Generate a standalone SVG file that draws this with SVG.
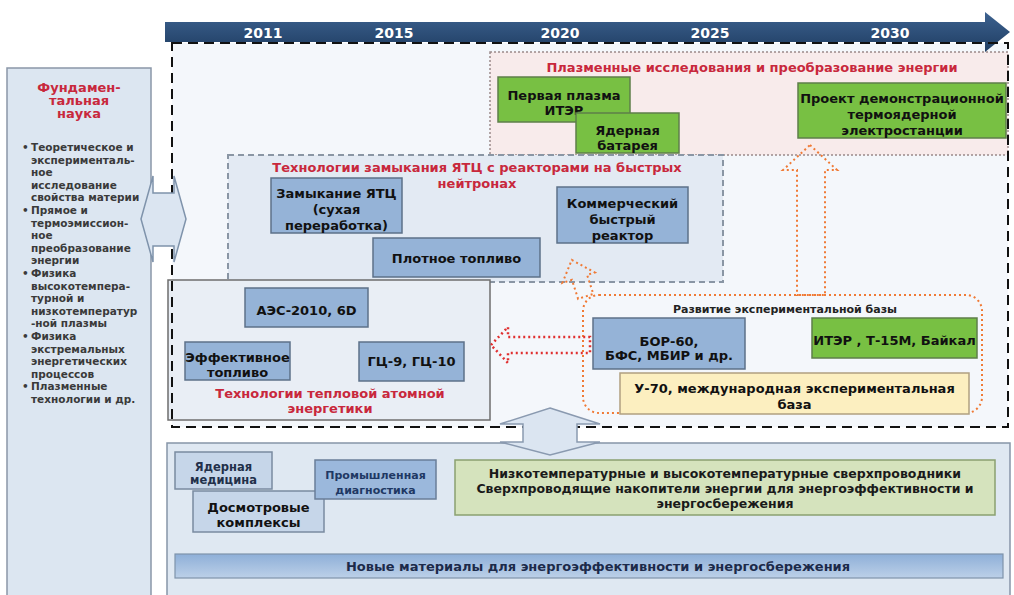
<svg xmlns="http://www.w3.org/2000/svg" width="1014" height="595" viewBox="0 0 1014 595">
<defs>
<linearGradient id="band" x1="0" y1="0" x2="0" y2="1">
<stop offset="0" stop-color="#3d6290"/><stop offset="1" stop-color="#1f3d62"/>
</linearGradient>
<linearGradient id="mat" x1="0" y1="0" x2="0" y2="1">
<stop offset="0" stop-color="#8eafd8"/><stop offset="1" stop-color="#bcd0e8"/>
</linearGradient>
</defs>
<style>
text{font-family:"DejaVu Sans","Liberation Sans",Arial,sans-serif;font-weight:bold;text-anchor:middle}
.t{font-size:13px;fill:#111}
.r{font-size:13px;fill:#c8283c}
.yr{font-size:14px;fill:#fff}
.lb{font-size:10.5px;fill:#3a3a3a;text-anchor:start}
.blue{fill:#95b3d7;stroke:#5d7189;stroke-width:1.5}
.green{fill:#78c043;stroke:#5e7f4a;stroke-width:1.5}
.pale{fill:#c6d6e9;stroke:#7a8aa0;stroke-width:1.5}
.small{font-size:11.5px;fill:#22304a}
.dot-o{fill:none;stroke:#f07a35;stroke-width:2;stroke-dasharray:2 3}
</style>

<rect x="172" y="43" width="836" height="384" fill="#f4f7fb"/>

<g id="fundamental">
<rect x="7" y="68" width="144" height="530" fill="#dce6f1" stroke="#8a97a8" stroke-width="1.5"/>
<text class="r" x="79" y="92" font-size="12.5">Фундамен-</text>
<text class="r" x="79" y="105" font-size="12.5">тальная</text>
<text class="r" x="79" y="118" font-size="12.5">наука</text>
<text class="lb" x="22" y="151">•</text><text class="lb" x="31" y="151">Теоретическое и</text>
<text class="lb" x="31" y="163.6">эксперименталь-</text>
<text class="lb" x="31" y="176.2">ное</text>
<text class="lb" x="31" y="188.8">исследование</text>
<text class="lb" x="31" y="201.4">свойства материи</text>
<text class="lb" x="22" y="214">•</text><text class="lb" x="31" y="214">Прямое и</text>
<text class="lb" x="31" y="226.6">термоэмиссион-</text>
<text class="lb" x="31" y="239.2">ное</text>
<text class="lb" x="31" y="251.8">преобразование</text>
<text class="lb" x="31" y="264.4">энергии</text>
<text class="lb" x="22" y="277">•</text><text class="lb" x="31" y="277">Физика</text>
<text class="lb" x="31" y="289.6">высокотемпера-</text>
<text class="lb" x="31" y="302.2">турной и</text>
<text class="lb" x="31" y="314.8">низкотемператур</text>
<text class="lb" x="31" y="327.4">-ной плазмы</text>
<text class="lb" x="22" y="340">•</text><text class="lb" x="31" y="340">Физика</text>
<text class="lb" x="31" y="352.6">экстремальных</text>
<text class="lb" x="31" y="365.2">энергетических</text>
<text class="lb" x="31" y="377.8">процессов</text>
<text class="lb" x="22" y="390.4">•</text><text class="lb" x="31" y="390.4">Плазменные</text>
<text class="lb" x="31" y="403">технологии и др.</text>
</g>

<g id="timeline">
<polygon points="165,22 985,22 985,12 1010,32 985,52 985,42 165,42" fill="url(#band)"/>
<text class="yr" x="263" y="38">2011</text>
<text class="yr" x="394" y="38">2015</text>
<text class="yr" x="560" y="38">2020</text>
<text class="yr" x="710" y="38">2025</text>
<text class="yr" x="890" y="38">2030</text>
</g>

<g id="plasma-region">
<rect x="490" y="52" width="518" height="103" fill="#f8ebeb" stroke="#9a8a8a" stroke-width="1.5" stroke-dasharray="2 2"/>
<text class="r" x="752" y="72">Плазменные исследования и преобразование энергии</text>
</g>

<g id="closure-region">
<rect x="228" y="155" width="495" height="127" fill="#e3eaf3" stroke="#8a96a4" stroke-width="2" stroke-dasharray="6 4"/>
<text class="r" x="477" y="172">Технологии замыкания ЯТЦ с реакторами на быстрых</text>
<text class="r" x="477" y="188">нейтронах</text>
</g>

<g id="first-plasma">
<rect class="green" x="498" y="77" width="132" height="45"/>
<text class="t" x="564" y="100">Первая плазма</text>
<text class="t" x="564" y="115">ИТЭР</text>
</g>
<g id="nuclear-battery">
<rect class="green" x="576" y="113" width="103" height="40"/>
<text class="t" x="627.5" y="135">Ядерная</text>
<text class="t" x="627.5" y="150">батарея</text>
</g>
<g id="demo-plant">
<rect class="green" x="798" y="83" width="208" height="55"/>
<text class="t" x="902" y="103">Проект демонстрационной</text>
<text class="t" x="902" y="119">термоядерной</text>
<text class="t" x="902" y="135">электростанции</text>
</g>

<g id="closure-dry">
<rect class="blue" x="271" y="178" width="131" height="55"/>
<text class="t" x="336.5" y="198">Замыкание ЯТЦ</text>
<text class="t" x="336.5" y="214">(сухая</text>
<text class="t" x="336.5" y="230">переработка)</text>
</g>
<g id="commercial-fast">
<rect class="blue" x="557" y="187" width="131" height="56"/>
<text class="t" x="622.5" y="208">Коммерческий</text>
<text class="t" x="622.5" y="224">быстрый</text>
<text class="t" x="622.5" y="240">реактор</text>
</g>

<g id="thermal-region">
<rect x="168" y="280" width="322" height="140" fill="#e9eef5" stroke="#6e6e6e" stroke-width="1.5"/>
<text class="r" x="330" y="398">Технологии тепловой атомной</text>
<text class="r" x="330" y="413">энергетики</text>
</g>
<g id="dense-fuel">
<rect class="blue" x="373" y="238" width="167" height="39"/>
<text class="t" x="456.5" y="263">Плотное топливо</text>
</g>
<g id="aes2010">
<rect class="blue" x="245" y="288" width="123" height="39"/>
<text class="t" x="306.5" y="315">АЭС-2010, 6D</text>
</g>
<g id="eff-fuel">
<rect class="blue" x="185" y="342" width="105" height="38"/>
<text class="t" x="237.5" y="362" font-size="12.5">Эффективное</text>
<text class="t" x="237.5" y="377" font-size="12.5">топливо</text>
</g>
<g id="gc">
<rect class="blue" x="359" y="342" width="105" height="39"/>
<text class="t" x="411.5" y="366">ГЦ-9, ГЦ-10</text>
</g>

<g id="exp-base">
<rect class="dot-o" x="583" y="295" width="399" height="118" rx="16"/>
<text x="785" y="313" font-size="11" fill="#222">Развитие экспериментальной базы</text>
</g>
<g id="bor">
<rect class="blue" x="593" y="318" width="152" height="51"/>
<text class="t" x="669" y="346">БОР-60,</text>
<text class="t" x="669" y="360">БФС, МБИР и др.</text>
</g>
<g id="iter-t15">
<rect class="green" x="812" y="318" width="165" height="40"/>
<text class="t" x="894.5" y="345">ИТЭР , Т-15М, Байкал</text>
</g>
<g id="u70">
<rect x="620" y="373" width="349" height="41" fill="#fcefc0" stroke="#b0a080" stroke-width="1.5"/>
<text class="t" x="794.5" y="393">У-70, международная экспериментальная</text>
<text class="t" x="794.5" y="409">база</text>
</g>

<rect x="172" y="43" width="836" height="384" fill="none" stroke="#111" stroke-width="2" stroke-dasharray="10 6"/>

<g id="applied">
<rect x="167" y="443" width="843" height="160" fill="#dfe8f2" stroke="#8795a8" stroke-width="1.5"/>
</g>
<g id="nuc-med">
<rect class="pale" x="175" y="452" width="97" height="37"/>
<text class="small" x="223.5" y="471">Ядерная</text>
<text class="small" x="223.5" y="484">медицина</text>
</g>
<g id="inspection">
<rect class="pale" x="193" y="491" width="131" height="41"/>
<text class="t" x="258.5" y="512" fill="#22304a">Досмотровые</text>
<text class="t" x="258.5" y="527" fill="#22304a">комплексы</text>
</g>
<g id="ind-diag">
<rect x="315" y="460" width="121" height="39" fill="#9bb8dc" stroke="#6a7e99" stroke-width="1.5"/>
<text x="375.5" y="479" font-size="11" fill="#1f3864">Промышленная</text>
<text x="375.5" y="494" font-size="11" fill="#1f3864">диагностика</text>
</g>
<g id="superconductors">
<rect x="455" y="460" width="540" height="55" fill="#d5e3bd" stroke="#8aa070" stroke-width="1.5"/>
<text x="725" y="478" font-size="12.5" fill="#1a1a1a">Низкотемпературные и высокотемпературные сверхпроводники</text>
<text x="725" y="493" font-size="12.5" fill="#1a1a1a">Сверхпроводящие накопители энергии для энергоэффективности и</text>
<text x="725" y="508" font-size="12.5" fill="#1a1a1a">энергосбережения</text>
</g>
<g id="new-materials">
<rect x="175" y="554" width="828" height="24" fill="url(#mat)" stroke="#7f93ab" stroke-width="1.2"/>
<text x="598" y="571" font-size="13" fill="#1c2a4a">Новые материалы для энергоэффективности и энергосбережения</text>
</g>

<g id="connectors">
<polygon points="141,219 153,176 153,193 174,193 174,176 186,219 174,262 174,246 153,246 153,262" fill="#dbe5f1" stroke="#7f93ab" stroke-width="1.5"/>
<polygon points="491,345 508,327 508,337 590,337 590,353 508,353 508,363" fill="none" stroke="#e03030" stroke-width="2.5" stroke-dasharray="2 3"/>
<polygon class="dot-o" points="810,145 837,170 825,170 825,295 797,295 797,170 783,170"/>
<polygon class="dot-o" points="580,258 598,277 590,277 590,297 574,297 574,277 564,277" transform="rotate(-18 582 285)"/>
<polygon points="550,408 600,424 577,424 577,442 600,442 550,455 500,442 523,442 523,424 500,424" fill="#dbe5f1" stroke="#8a9ab0" stroke-width="1.5"/>
</g>
</svg>
